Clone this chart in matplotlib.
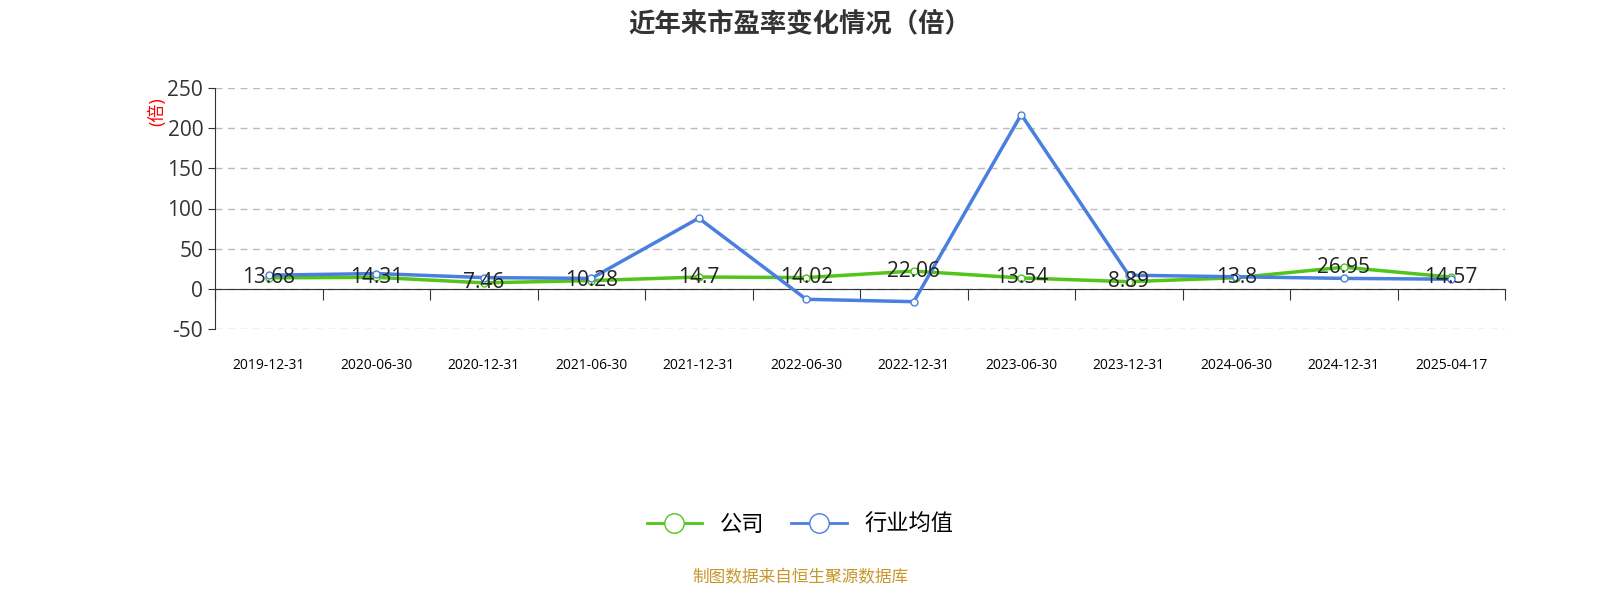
import matplotlib.pyplot as plt
import numpy as np

plt.rcParams['font.family'] = ['Open Sans', 'Noto Sans CJK SC', 'DejaVu Sans']
plt.rcParams['axes.unicode_minus'] = False

dates = ['2019-12-31', '2020-06-30', '2020-12-31', '2021-06-30', '2021-12-31', '2022-06-30',
         '2022-12-31', '2023-06-30', '2023-12-31', '2024-06-30', '2024-12-31', '2025-04-17']
company = [13.68, 14.31, 7.46, 10.28, 14.7, 14.02, 22.06, 13.54, 8.89, 13.8, 26.95, 14.57]
industry = [17, 19, 14, 13, 88, -13, -16, 217, 17, 15, 13, 12]

green = '#52c41a'
blue = '#4a7fe0'

fig = plt.figure(figsize=(16, 6), dpi=100)
ax = fig.add_axes([215 / 1600, 1 - 329 / 600, 1290 / 1600, 241 / 600])
x = np.arange(len(dates))
ax.plot(x, company, color=green, lw=2.5, marker='o', ms=5, mfc='white', mec=green, zorder=3)
ax.plot(x, industry, color=blue, lw=2.5, marker='o', ms=5, mfc='white', mec=blue, zorder=4)
for xi, v in zip(x, company):
    ax.text(xi, v, str(v), ha='center', va='center', fontsize=15, color='#222', zorder=5)

ax.set_xlim(-0.5, len(dates) - 0.5)
ax.set_ylim(-50, 250)
ax.set_yticks(range(-50, 251, 50))
ax.tick_params(axis='y', labelsize=15, colors='#333', length=5)
ax.set_xticks(np.arange(-0.5, len(dates), 1), minor=False)
ax.set_xticklabels([])
ax.set_xticks(x, minor=True)
ax.set_xticklabels(dates, minor=True, rotation=60, ha='right', rotation_mode='anchor', fontsize=15, color='#333')
ax.tick_params(axis='x', which='minor', length=0, pad=50)
ax.tick_params(axis='x', which='major', length=8, color='#333')
ax.grid(axis='y', ls=(0, (5, 4)), color='#bbb', lw=1)
for s in ['top', 'right']:
    ax.spines[s].set_visible(False)
ax.spines['bottom'].set_position(('data', 0))
ax.spines['bottom'].set_color('#333')
ax.spines['left'].set_color('#333')
ax.text(-0.045, 0.9, '(倍)', transform=ax.transAxes, rotation=90, color='red', fontsize=13, ha='center', va='center')

fig.text(0.5, 0.96, '近年来市盈率变化情况（倍）', ha='center', va='center', fontsize=19, fontweight='bold', color='#333')
fig.legend(handles=[plt.Line2D([], [], color=green, lw=2, marker='o', ms=14, mfc='white', label='公司'),
                    plt.Line2D([], [], color=blue, lw=2, marker='o', ms=14, mfc='white', label='行业均值')],
           loc='center', bbox_to_anchor=(0.5, 1 - 525 / 600), ncol=2, frameon=False, fontsize=16,
           handlelength=2.5, columnspacing=1.2)
fig.text(0.5, 1 - 578 / 600, '制图数据来自恒生聚源数据库', ha='center', va='center', fontsize=12, color='#c8962a')
fig.savefig('out.png')
